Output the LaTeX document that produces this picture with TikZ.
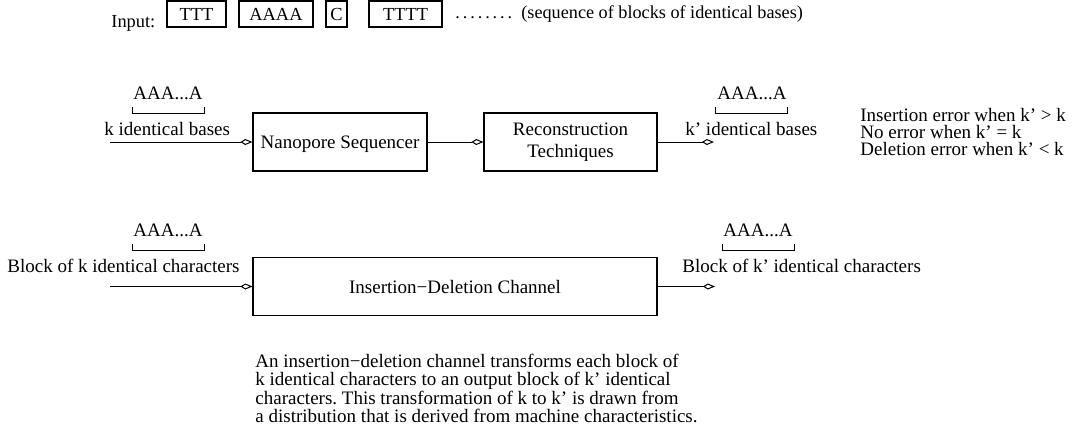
\documentclass[tikz,border=0pt]{standalone}
\usepackage{fontspec}
\setmainfont{Liberation Serif}
\usetikzlibrary{arrows.meta}
\frenchspacing

\begin{document}
\begin{tikzpicture}[x=0.5pt, y=-0.5pt, font=\fontsize{9.5pt}{11pt}\selectfont,
  blockbox/.style={rectangle, draw, line width=0.55pt, inner sep=0pt, minimum height=29pt},
  basebox/.style={rectangle, draw, line width=0.55pt, inner sep=0pt, minimum height=13pt, font=\fontsize{9.2pt}{11pt}\selectfont},
  lbl/.style={inner sep=0pt, anchor=base west},
  flow/.style={-{Kite[open, length=6pt, width=3pt, inset=2.4pt]}, line width=0.5pt}]
\useasboundingbox (0,0) rectangle (1074,441);

% input sequence
\node[lbl, font=\fontsize{9.2pt}{11pt}\selectfont] (input) at (111,27) {Input:};
\node[basebox, minimum width=29.5pt] (b1) at (196.5,14) {TTT};
\node[basebox, minimum width=37pt] (b2) at (276,14) {AAAA};
\node[basebox, minimum width=10.5pt] (b3) at (336.5,14) {C};
\node[basebox, minimum width=36.5pt] (b4) at (405.5,14) {TTTT};
\node[lbl, font=\fontsize{9.1pt}{11pt}\selectfont\addfontfeature{LetterSpace=16}] (dots) at (455,18) {........};
\node[lbl, font=\fontsize{9.1pt}{11pt}\selectfont] (seqnote) at (521,18) {(sequence of blocks of identical bases)};

% sequencer path
\node[lbl] (aaa1) at (133,99) {AAA...A};
\draw[line width=0.5pt] (132,107) -- (132,113) -- (204,113) -- (204,107);
\node[lbl] (kin) at (104,135) {k identical bases};
\node[blockbox, minimum width=87pt, text depth=0pt] (nano) at (340,142) {Nanopore Sequencer};
\node[blockbox, minimum width=86.5pt, align=center] (recon) at (570.5,142) {Reconstruction\\Techniques};
\coordinate (nanoin) at (110,142);
\coordinate (reconout) at (714,142);
\draw[flow] (nanoin) -- (nano);
\draw[flow] (nano) -- (recon);
\draw[flow] (recon) -- (reconout);
\node[lbl] (kout) at (685,135) {k’ identical bases};
\node[lbl] (aaa2) at (717,99) {AAA...A};
\draw[line width=0.5pt] (715,107) -- (715,113) -- (787,113) -- (787,107);
\node[anchor=north west, inner sep=0pt, align=left, font=\fontsize{9.5pt}{8.5pt}\selectfont] (errors) at (860,108)
  {Insertion error when k’ > k\\No error when k’ = k\\Deletion error when k’ < k};

% channel model
\node[lbl] (aaa3) at (133,236) {AAA...A};
\draw[line width=0.5pt] (132,244) -- (132,250) -- (204,250) -- (204,244);
\node[lbl] (blkin) at (7,272) {Block of k identical characters};
\node[blockbox, minimum width=202pt] (chan) at (455,286.5) {Insertion−Deletion Channel};
\coordinate (chanin) at (110,286.5);
\coordinate (chanout) at (715,286.5);
\draw[flow] (chanin) -- (chan);
\draw[flow] (chan) -- (chanout);
\node[lbl] (blkout) at (682,272) {Block of k’ identical characters};
\node[lbl] (aaa4) at (723,236) {AAA...A};
\draw[line width=0.5pt] (722,244) -- (722,250) -- (794,250) -- (794,244);

\node[anchor=north west, inner sep=0pt, align=left, font=\fontsize{9.5pt}{9.2pt}\selectfont] (note) at (255,353.5)
  {An insertion−deletion channel transforms each block of\\k identical characters to an output block of k’ identical\\characters. This transformation of k to k’ is drawn from\\a distribution that is derived from machine characteristics.};
\end{tikzpicture}
\end{document}
